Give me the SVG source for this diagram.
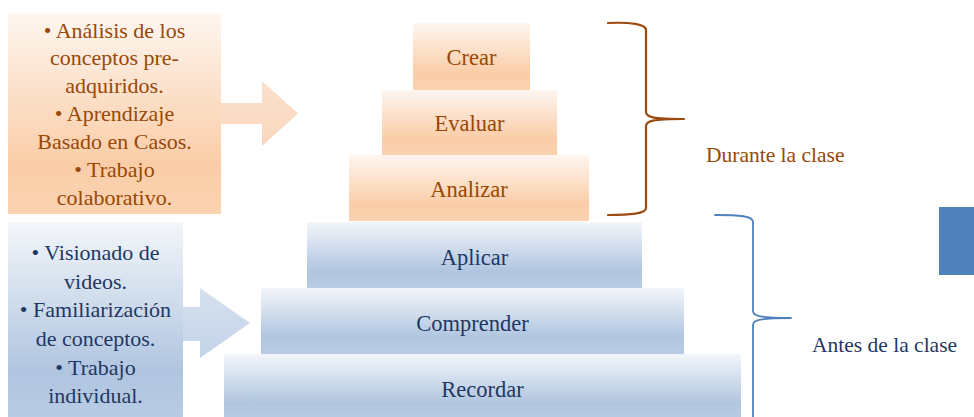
<svg xmlns="http://www.w3.org/2000/svg" width="974" height="417" viewBox="0 0 974 417">
<defs>
<linearGradient id="gO" x1="0" y1="0" x2="0" y2="1">
<stop offset="0" stop-color="#FEF6F0"/>
<stop offset="0.75" stop-color="#FACDA7"/>
<stop offset="1" stop-color="#FBD3B1"/>
</linearGradient>
<linearGradient id="gB" x1="0" y1="0" x2="0" y2="1">
<stop offset="0" stop-color="#F3F6FA"/>
<stop offset="0.75" stop-color="#B0C5E0"/>
<stop offset="1" stop-color="#B8CCE4"/>
</linearGradient>
<linearGradient id="gOA" x1="0" y1="0" x2="0" y2="1">
<stop offset="0" stop-color="#FBE1CE"/>
<stop offset="1" stop-color="#FAD6BC"/>
</linearGradient>
<linearGradient id="gBA" x1="0" y1="0" x2="0" y2="1">
<stop offset="0" stop-color="#D6E1EF"/>
<stop offset="1" stop-color="#C3D3E8"/>
</linearGradient>
</defs>
<rect width="974" height="417" fill="#FFFFFF"/>

<g id="box-durante" font-family="'Liberation Serif', 'Times New Roman', Tinos, 'DejaVu Serif', serif" font-size="22" text-anchor="middle" fill="#984807">
<rect x="8" y="13" width="213" height="201" fill="url(#gO)"/>
<text x="114.5" y="37.5">• Análisis de los</text>
<text x="114.5" y="65.3">conceptos pre-</text>
<text x="114.5" y="93.2">adquiridos.</text>
<text x="114.5" y="121">• Aprendizaje</text>
<text x="114.5" y="149">Basado en Casos.</text>
<text x="114.5" y="176.7">• Trabajo</text>
<text x="114.5" y="204.5">colaborativo.</text>
</g>

<g id="box-antes" font-family="'Liberation Serif', 'Times New Roman', Tinos, 'DejaVu Serif', serif" font-size="22" text-anchor="middle" fill="#1F3864">
<rect x="8" y="222" width="175" height="200" fill="url(#gB)"/>
<text x="95.5" y="260">• Visionado de</text>
<text x="95.5" y="288.5">videos.</text>
<text x="95.5" y="317">• Familiarización</text>
<text x="95.5" y="345.5">de conceptos.</text>
<text x="95.5" y="374.5">• Trabajo</text>
<text x="95.5" y="403">individual.</text>
</g>

<g font-family="'Liberation Serif', 'Times New Roman', Tinos, 'DejaVu Serif', serif" font-size="22.5" text-anchor="middle" fill="#984807">
<g id="crear">
<rect x="413" y="23" width="117" height="67" fill="url(#gO)"/>
<text x="471.5" y="65">Crear</text>
</g>
<g id="evaluar">
<rect x="382" y="90" width="175" height="65" fill="url(#gO)"/>
<text x="469.5" y="131">Evaluar</text>
</g>
<g id="analizar">
<rect x="349" y="155" width="240" height="66" fill="url(#gO)"/>
<text x="469" y="197">Analizar</text>
</g>
</g>
<g font-family="'Liberation Serif', 'Times New Roman', Tinos, 'DejaVu Serif', serif" font-size="22.5" text-anchor="middle" fill="#1F3864">
<g id="aplicar">
<rect x="307" y="222" width="335" height="66" fill="url(#gB)"/>
<text x="474.5" y="265">Aplicar</text>
</g>
<g id="comprender">
<rect x="261" y="288" width="423" height="66" fill="url(#gB)"/>
<text x="472.5" y="331">Comprender</text>
</g>
<g id="recordar">
<rect x="224" y="354" width="517" height="66" fill="url(#gB)"/>
<text x="482.5" y="397">Recordar</text>
</g>
</g>

<g id="label-durante" font-family="'Liberation Serif', 'Times New Roman', Tinos, 'DejaVu Serif', serif" font-size="21.5" fill="#984807">
<text x="706" y="162">Durante la clase</text>
</g>
<g id="label-antes" font-family="'Liberation Serif', 'Times New Roman', Tinos, 'DejaVu Serif', serif" font-size="21.5" fill="#1F3864">
<text x="812" y="352">Antes de la clase</text>
</g>
<g id="side-block">
<rect x="939" y="207" width="36" height="68" fill="#4F81BD"/>
</g>

<g id="connectors">
<polygon points="221,103 262,103 262,81 298,113.5 262,146 262,124 221,124" fill="url(#gOA)"/>
<polygon points="183,307 200,307 200,288 250,323 200,358 200,341 183,341" fill="url(#gBA)"/>
<g fill="none" stroke-linecap="round" stroke-linejoin="round">
<path stroke="#9C4A0E" stroke-width="2.2" d="M608,23 C630,22 646,24 646,30 L646,112 C646,117 652,119 684,119 M684,119 C652,119 646,121 646,126 L646,208 C646,214 630,215 608,215"/>
<path stroke="#4F81BD" stroke-width="1.8" d="M715,215 C740,215 753,216 753,222 L753,311 C753,316 760,318 791,318 M791,318 C760,318 753,320 753,325 L753,420"/>
</g>
</g>
</svg>
